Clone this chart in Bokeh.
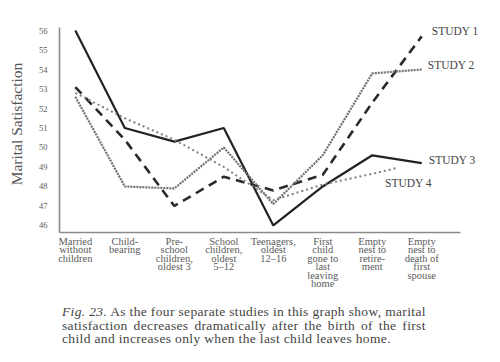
from bokeh.plotting import figure
from bokeh.models import FixedTicker, Label, Range1d, Div
from bokeh.layouts import column
from bokeh.embed import file_html
from bokeh.resources import INLINE

categories = [
    "Married\nwithout\nchildren",
    "Child-\nbearing",
    "Pre-\nschool\nchildren,\noldest 3",
    "School\nchildren,\noldest\n5–12",
    "Teenagers,\noldest\n12–16",
    "First\nchild\ngone to\nlast\nleaving\nhome",
    "Empty\nnest to\nretire-\nment",
    "Empty\nnest to\ndeath of\nfirst\nspouse",
]
x_pos = [0, 1, 2, 3, 4, 5, 6, 7]
y_ticks = [46, 47, 48, 49, 50, 51, 52, 53, 54, 55, 56]

study1 = [53.1, 50.4, 47.0, 48.5, 47.8, 48.6, 52.3, 55.7]
study2 = [52.6, 48.0, 47.9, 50.0, 47.1, 49.6, 53.8, 54.0]
study3 = [56.0, 51.0, 50.3, 51.0, 46.0, 48.0, 49.6, 49.2]
study4 = [52.8, 51.5, 50.4, 49.0, 47.3, 48.1, 48.65, 48.95]
x_study4 = [0, 1, 2, 3, 4, 5, 6, 6.5]

study_names = ["STUDY 1", "STUDY 2", "STUDY 3", "STUDY 4"]

caption_lead = "Fig. 23."
caption_lines = [
    "As the four separate studies in this graph show, marital",
    "satisfaction decreases dramatically after the birth of the first",
    "child and increases only when the last child leaves home.",
]

SERIF = "Liberation Serif"
X_START, X_AXIS_END, X_END = -0.32, 7.78, 8.43
Y_START, Y_AXIS_END, Y_END = 45.64, 56.15, 56.77

p = figure(width=492, height=300, output_backend="svg", toolbar_location=None,
           x_range=Range1d(X_START, X_END), y_range=Range1d(Y_START, Y_END),
           min_border_left=59, min_border_right=0, min_border_top=15,
           min_border_bottom=68)
p.outline_line_color = None
p.grid.visible = False
p.background_fill_color = "white"
p.border_fill_color = "white"

# axes
p.xaxis.ticker = FixedTicker(ticks=x_pos)
p.xaxis.major_label_overrides = {x: c for x, c in zip(x_pos, categories)}
p.xaxis.bounds = (X_START, X_AXIS_END)
p.yaxis.ticker = FixedTicker(ticks=y_ticks)
p.yaxis.bounds = (Y_START, Y_AXIS_END)
for ax in (p.xaxis, p.yaxis):
    ax.axis_line_color = "#8a8a8a"
    ax.axis_line_width = 1.6
    ax.major_tick_line_color = None
    ax.minor_tick_line_color = None
    ax.major_tick_out = 0
    ax.major_tick_in = 0
    ax.major_label_text_font = SERIF
    ax.major_label_text_color = "#5a5a5a"
p.xaxis.major_label_text_font_size = "10.5px"
p.xaxis.major_label_text_line_height = 0.78
p.xaxis.major_label_standoff = 3
p.yaxis.major_label_text_font_size = "8.5px"
p.yaxis.major_label_standoff = 12
p.yaxis.axis_label = "Marital Satisfaction"
p.yaxis.axis_label_text_font = SERIF
p.yaxis.axis_label_text_font_size = "15.5px"
p.yaxis.axis_label_text_font_style = "normal"
p.yaxis.axis_label_text_color = "#555555"
p.yaxis.axis_label_standoff = 11

# series
p.line(x_pos, study3, line_color="#222222", line_width=2.2)
p.line(x_pos, study1, line_color="#2a2a2a", line_width=2.6, line_dash="9 6")
p.line(x_pos, study2, line_color="#707070", line_width=2.2, line_dash="2 1")
p.line(x_study4, study4, line_color="#808080", line_width=2.0, line_dash="2 3")

# study labels
ends = [(x_pos[-1], study1[-1], 10, 5), (x_pos[-1], study2[-1], 6, 5),
        (x_pos[-1], study3[-1], 7, 3), (x_study4[-1], study4[-1], -12, -15)]
for name, (xe, ye, dx, dy) in zip(study_names, ends):
    p.add_layout(Label(x=xe, y=ye, x_offset=dx, y_offset=dy, text=name,
                       text_font=SERIF, text_font_size="11.5px",
                       text_color="#444444", text_baseline="middle"))

# caption
just = "text-align:justify;text-align-last:justify;"
rows = [
    f'<div style="{just}"><i>{caption_lead}</i> {caption_lines[0]}</div>',
    f'<div style="{just}">{caption_lines[1]}</div>',
    f'<div>{caption_lines[2]}</div>',
]
caption = Div(text="".join(rows), width=492, height=50,
              styles={"font-family": SERIF, "font-size": "13.5px",
                      "line-height": "13.5px", "letter-spacing": "0.35px",
                      "color": "#444444", "white-space": "nowrap",
                      "padding-left": "57px", "width": "440px",
                      "box-sizing": "border-box"})

layout = column(p, caption, spacing=0)
open("out.html", "w").write(file_html(layout, INLINE))
